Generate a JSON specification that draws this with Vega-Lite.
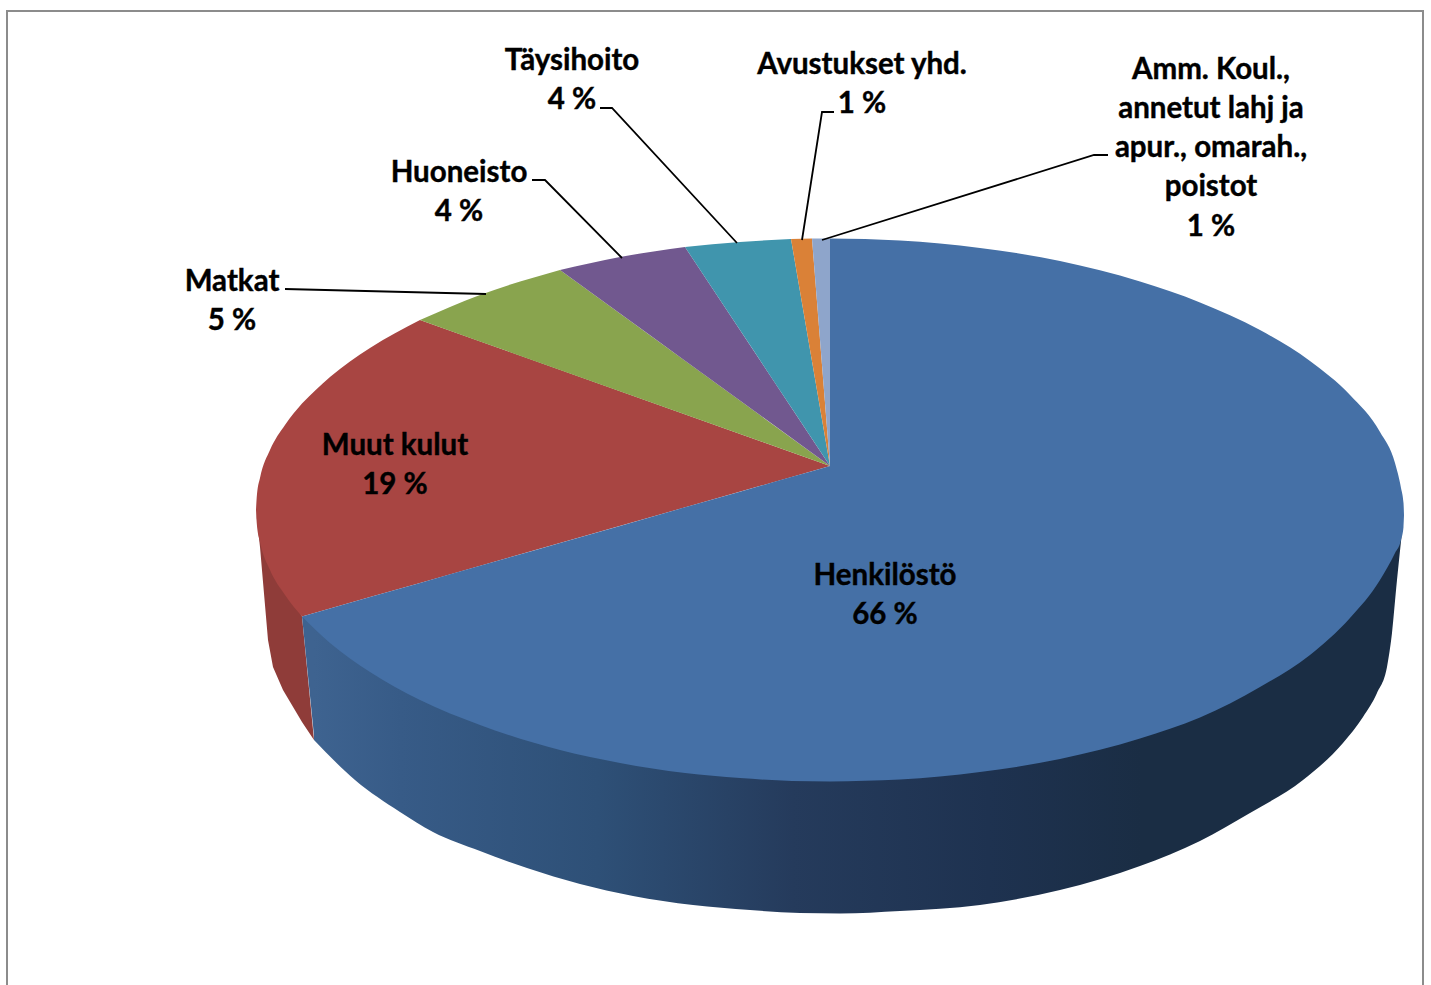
{"$schema":"https://vega.github.io/schema/vega-lite/v6.json","width":1431,"height":985,"padding":0,"autosize":"none","background":"#ffffff","view":{"stroke":null},
"encoding":{"x":{"field":"x","type":"quantitative","scale":{"domain":[0,1431],"nice":false,"zero":false},"axis":null},"y":{"field":"y","type":"quantitative","scale":{"domain":[0,985],"reverse":true,"nice":false,"zero":false},"axis":null}},
"layer":[
{"data":{"values":[{"i":1,"x":7,"y":985},{"i":2,"x":7,"y":11},{"i":3,"x":1423,"y":11},{"i":4,"x":1423,"y":985}]},"mark":{"type":"line","color":"#8c8c8c","strokeWidth":2},"encoding":{"order":{"field":"i"}}},
{"data":{"values":[{"x":256,"y":510,"y2":510},{"x":257,"y":518,"y2":520},{"x":260,"y":530,"y2":547},{"x":268,"y":550,"y2":640},{"x":273,"y":560,"y2":667},{"x":283,"y":580,"y2":690},{"x":302,"y":616.5,"y2":722},{"x":314,"y":740,"y2":740}]},"mark":{"type":"area","color":"#8f3c39"},"encoding":{"y2":{"field":"y2"}}},
{"data":{"values":[{"x":302,"y":616.5,"y2":616.5},{"x":314.5,"y":620,"y2":740.5}]},"mark":{"type":"area","color":"#3e6390"},"encoding":{"y2":{"field":"y2"}}},
{"data":{"values":[{"x":314,"y":620,"y2":740},{"x":355,"y":640,"y2":780},{"x":400,"y":670,"y2":812},{"x":433,"y":686,"y2":832},{"x":480,"y":705,"y2":851},{"x":527,"y":720,"y2":868},{"x":580,"y":734,"y2":884},{"x":633,"y":745,"y2":896},{"x":693,"y":753,"y2":905},{"x":750,"y":758,"y2":910},{"x":800,"y":761,"y2":913},{"x":840,"y":761,"y2":913.5},{"x":900,"y":759,"y2":911},{"x":980,"y":752,"y2":905},{"x":1060,"y":739,"y2":890},{"x":1140,"y":718,"y2":866},{"x":1200,"y":697,"y2":841},{"x":1250,"y":673,"y2":813},{"x":1303,"y":639,"y2":780},{"x":1343,"y":605,"y2":743},{"x":1363,"y":582,"y2":717},{"x":1377,"y":567,"y2":693},{"x":1387,"y":552,"y2":667},{"x":1392,"y":545,"y2":633},{"x":1397,"y":538,"y2":580},{"x":1403,"y":523,"y2":523}]},"mark":{"type":"area","interpolate":"monotone","color":{"gradient":"linear","x1":0,"x2":1,"y1":0,"y2":0,"stops":[{"offset":0,"color":"#3e6390"},{"offset":0.08,"color":"#375b87"},{"offset":0.26,"color":"#2e5077"},{"offset":0.44,"color":"#253b5c"},{"offset":0.62,"color":"#1e3250"},{"offset":0.76,"color":"#1a2d44"},{"offset":1,"color":"#1a2d44"}]}},"encoding":{"y2":{"field":"y2"}}},
{"data":{"values":[
{"part":"Muut kulut","piece":"a","x":256,"y":510,"y2":510},{"part":"Muut kulut","piece":"a","x":257,"y":494,"y2":526},{"part":"Muut kulut","piece":"a","x":260,"y":478,"y2":542},{"part":"Muut kulut","piece":"a","x":270,"y":450,"y2":570},{"part":"Muut kulut","piece":"a","x":285,"y":425,"y2":595},{"part":"Muut kulut","piece":"a","x":302,"y":403.5,"y2":616.5},
{"part":"Muut kulut","piece":"b","x":302,"y":403.5,"y2":616.5},{"part":"Muut kulut","piece":"b","x":330,"y":377,"y2":608.5},{"part":"Muut kulut","piece":"b","x":370,"y":348,"y2":597.1},{"part":"Muut kulut","piece":"b","x":420,"y":320,"y2":582.9},
{"part":"Muut kulut","piece":"c","x":420,"y":320,"y2":582.9},{"part":"Muut kulut","piece":"c","x":830,"y":466,"y2":466},
{"part":"Matkat","piece":"a","x":420,"y":320,"y2":320},{"part":"Matkat","piece":"a","x":480,"y":295,"y2":341.4},{"part":"Matkat","piece":"a","x":560,"y":270,"y2":369.9},
{"part":"Matkat","piece":"b","x":560,"y":270,"y2":369.9},{"part":"Matkat","piece":"b","x":830,"y":466,"y2":466},
{"part":"Huoneisto","piece":"a","x":560,"y":270,"y2":270},{"part":"Huoneisto","piece":"a","x":620,"y":257,"y2":313.6},{"part":"Huoneisto","piece":"a","x":685,"y":247,"y2":360.7},
{"part":"Huoneisto","piece":"b","x":685,"y":247,"y2":360.7},{"part":"Huoneisto","piece":"b","x":830,"y":466,"y2":466},
{"part":"Täysihoito","piece":"a","x":685,"y":247,"y2":247},{"part":"Täysihoito","piece":"a","x":740,"y":242,"y2":330.1},{"part":"Täysihoito","piece":"a","x":791,"y":239,"y2":407.1},
{"part":"Täysihoito","piece":"b","x":791,"y":239,"y2":407.1},{"part":"Täysihoito","piece":"b","x":830,"y":466,"y2":466},
{"part":"Avustukset yhd.","piece":"a","x":791,"y":239,"y2":239},{"part":"Avustukset yhd.","piece":"a","x":812,"y":238.5,"y2":361.2},
{"part":"Avustukset yhd.","piece":"b","x":812,"y":238.5,"y2":361.2},{"part":"Avustukset yhd.","piece":"b","x":830,"y":466,"y2":466},
{"part":"Amm. Koul.","piece":"a","x":812,"y":238.5,"y2":238.5},{"part":"Amm. Koul.","piece":"a","x":830,"y":238.5,"y2":466},
{"part":"Henkilöstö","piece":"a","x":302,"y":616.5,"y2":616.5},{"part":"Henkilöstö","piece":"a","x":330,"y":608.5,"y2":643},{"part":"Henkilöstö","piece":"a","x":370,"y":597.1,"y2":672},{"part":"Henkilöstö","piece":"a","x":420,"y":582.9,"y2":700},{"part":"Henkilöstö","piece":"a","x":480,"y":565.8,"y2":725},{"part":"Henkilöstö","piece":"a","x":560,"y":543,"y2":750},{"part":"Henkilöstö","piece":"a","x":620,"y":525.9,"y2":763},{"part":"Henkilöstö","piece":"a","x":685,"y":507.3,"y2":773},{"part":"Henkilöstö","piece":"a","x":740,"y":491.7,"y2":778},{"part":"Henkilöstö","piece":"a","x":792,"y":476.8,"y2":781},{"part":"Henkilöstö","piece":"a","x":830,"y":466,"y2":781.5},
{"part":"Henkilöstö","piece":"b","x":830,"y":238.5,"y2":781.5},{"part":"Henkilöstö","piece":"b","x":900,"y":240.5,"y2":779.5},{"part":"Henkilöstö","piece":"b","x":980,"y":248,"y2":772},{"part":"Henkilöstö","piece":"b","x":1060,"y":261,"y2":759},{"part":"Henkilöstö","piece":"b","x":1140,"y":281.5,"y2":738.5},{"part":"Henkilöstö","piece":"b","x":1200,"y":302.4,"y2":717.6},{"part":"Henkilöstö","piece":"b","x":1260,"y":330,"y2":687},{"part":"Henkilöstö","piece":"b","x":1310,"y":361,"y2":655},{"part":"Henkilöstö","piece":"b","x":1350,"y":395,"y2":618},{"part":"Henkilöstö","piece":"b","x":1380,"y":432,"y2":580},{"part":"Henkilöstö","piece":"b","x":1395,"y":463,"y2":553},{"part":"Henkilöstö","piece":"b","x":1401,"y":488,"y2":540},{"part":"Henkilöstö","piece":"b","x":1403.5,"y":503,"y2":527},{"part":"Henkilöstö","piece":"b","x":1404,"y":515,"y2":515}
]},"mark":{"type":"area","interpolate":"monotone"},"encoding":{"y2":{"field":"y2"},"detail":{"field":"piece"},"color":{"field":"part","type":"nominal","legend":null,"scale":{"domain":["Henkilöstö","Muut kulut","Matkat","Huoneisto","Täysihoito","Avustukset yhd.","Amm. Koul."],"range":["#4570a6","#a84542","#89a44e","#71588f","#4095ad","#da8137","#8ea5cb"]}}}},
{"data":{"values":[
{"k":"Matkat","i":1,"x":285,"y":289},{"k":"Matkat","i":2,"x":486,"y":294},
{"k":"Huoneisto","i":1,"x":532,"y":180},{"k":"Huoneisto","i":2,"x":545,"y":180},{"k":"Huoneisto","i":3,"x":622,"y":258},
{"k":"Täysihoito","i":1,"x":600,"y":108},{"k":"Täysihoito","i":2,"x":612,"y":108},{"k":"Täysihoito","i":3,"x":737,"y":243},
{"k":"Avustukset","i":1,"x":834,"y":112},{"k":"Avustukset","i":2,"x":822,"y":112},{"k":"Avustukset","i":3,"x":802,"y":240},
{"k":"Amm","i":1,"x":1108,"y":155},{"k":"Amm","i":2,"x":1094,"y":155},{"k":"Amm","i":3,"x":822,"y":240}
]},"mark":{"type":"line","color":"#000000","strokeWidth":1.8},"encoding":{"detail":{"field":"k"},"order":{"field":"i"}}},
{"data":{"values":[
{"t":"Täysihoito","x":572,"y":60.5},{"t":"4 %","x":572,"y":99.5},
{"t":"Avustukset yhd.","x":862,"y":64.5},{"t":"1 %","x":862,"y":103.5},
{"t":"Amm. Koul.,","x":1211,"y":69.5},{"t":"annetut lahj ja","x":1211,"y":108.5},{"t":"apur., omarah.,","x":1211,"y":147.5},{"t":"poistot","x":1211,"y":186.5},{"t":"1 %","x":1211,"y":226.5},
{"t":"Huoneisto","x":459,"y":172.5},{"t":"4 %","x":459,"y":211.5},
{"t":"Matkat","x":232,"y":281.5},{"t":"5 %","x":232,"y":320.5},
{"t":"Muut kulut","x":395,"y":445.5},{"t":"19 %","x":395,"y":484.5},
{"t":"Henkilöstö","x":885,"y":575.5},{"t":"66 %","x":885,"y":614.5}
]},"mark":{"type":"text","font":"Lato","fontWeight":"bold","fontSize":29.5,"color":"#000000","stroke":"#000000","strokeWidth":0.4,"align":"center","baseline":"middle"},"encoding":{"text":{"field":"t"}}}
]}
